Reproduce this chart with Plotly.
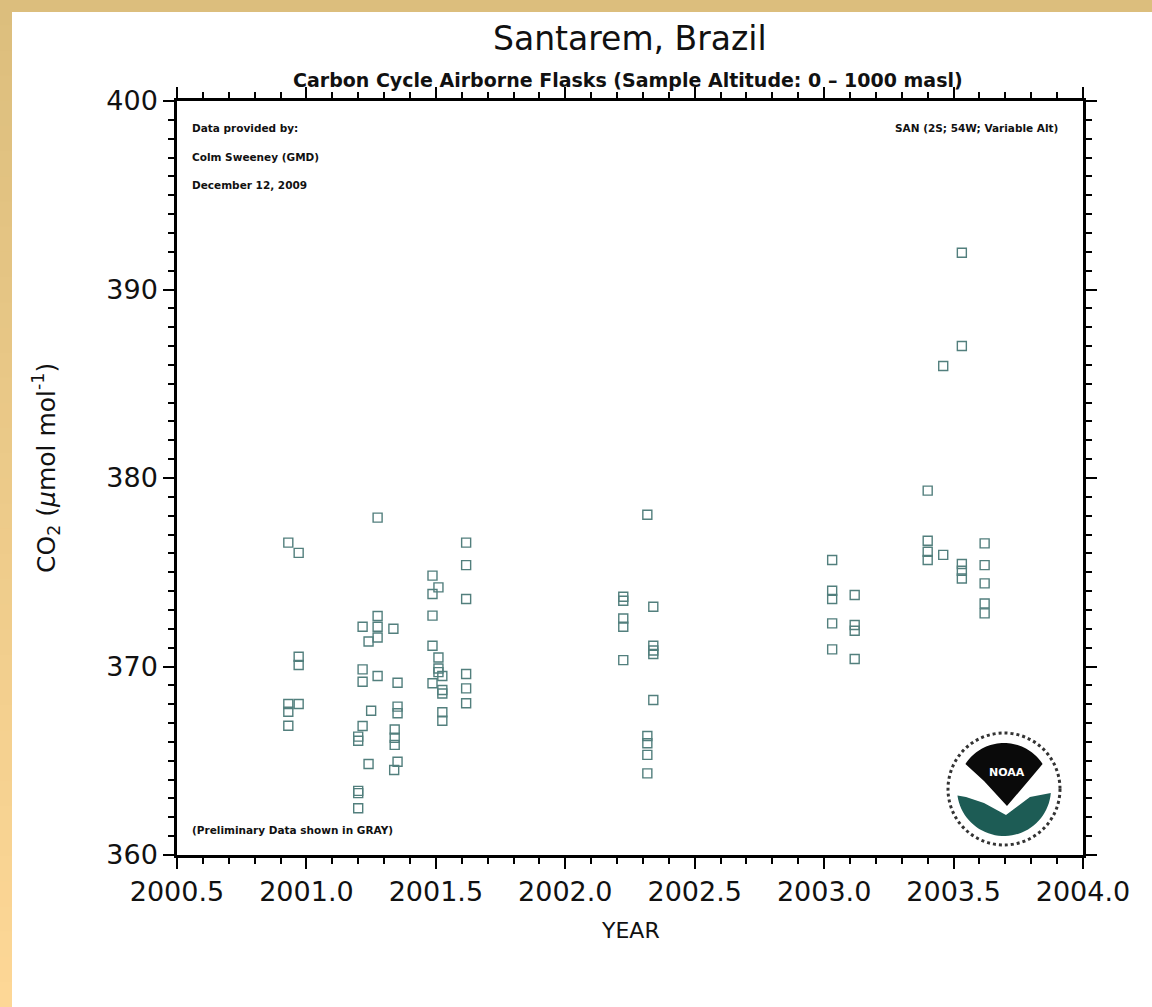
import math
import plotly.graph_objects as go

# ---------------- data (decimal year, CO2 in umol/mol) ----------------
flask_year = [
    2000.930, 2000.930, 2000.930, 2000.930,
    2000.970, 2000.970, 2000.970, 2000.970,
    2001.200, 2001.200, 2001.200, 2001.200, 2001.200,
    2001.217, 2001.217, 2001.217, 2001.217,
    2001.240, 2001.240, 2001.250,
    2001.275, 2001.275, 2001.275, 2001.275, 2001.275,
    2001.336, 2001.352, 2001.352, 2001.352, 2001.341, 2001.341, 2001.341, 2001.352, 2001.339,
    2001.487, 2001.487, 2001.487, 2001.487, 2001.487,
    2001.510, 2001.510, 2001.510, 2001.510,
    2001.525, 2001.525, 2001.525, 2001.525, 2001.525,
    2001.617, 2001.617, 2001.617, 2001.617, 2001.617, 2001.617,
    2002.224, 2002.224, 2002.224, 2002.224, 2002.224,
    2002.317, 2002.317, 2002.317, 2002.317, 2002.317,
    2002.340, 2002.340, 2002.340, 2002.340, 2002.340,
    2003.031, 2003.031, 2003.031, 2003.031, 2003.031,
    2003.118, 2003.118, 2003.118, 2003.118,
    2003.400, 2003.400, 2003.400, 2003.400,
    2003.460, 2003.460,
    2003.532, 2003.532, 2003.532, 2003.532, 2003.532,
    2003.620, 2003.620, 2003.620, 2003.620, 2003.620,
]
flask_co2 = [
    376.57, 368.01, 367.60, 366.86,
    376.03, 370.52, 370.08, 368.01,
    366.28, 366.06, 363.40, 363.28, 362.48,
    372.11, 369.85, 369.19, 366.84,
    371.33, 364.83, 367.65,
    377.90, 372.68, 372.11, 371.54, 369.50,
    372.00, 369.14, 367.87, 367.52, 366.66, 366.22, 365.84, 364.95, 364.51,
    374.82, 373.85, 372.70, 371.10, 369.11,
    374.20, 370.48, 369.89, 369.70,
    369.50, 368.75, 368.57, 367.57, 367.12,
    376.57, 375.38, 373.58, 369.60, 368.84, 368.05,
    373.70, 373.49, 372.55, 372.11, 370.34,
    378.05, 366.31, 365.93, 365.31, 364.33,
    373.17, 371.10, 370.85, 370.66, 368.22,
    375.65, 374.02, 373.58, 372.29, 370.91,
    373.79, 372.20, 371.90, 370.40,
    379.33, 376.67, 376.09, 375.65,
    385.94, 375.92,
    391.95, 387.00, 375.44, 375.08, 374.67,
    376.53, 375.38, 374.41, 373.34, 372.82,
]
x_tickvals = [2000.5, 2001.0, 2001.5, 2002.0, 2002.5, 2003.0, 2003.5, 2004.0]
x_ticktext = ["2000.5", "2001.0", "2001.5", "2002.0", "2002.5", "2003.0", "2003.5", "2004.0"]
y_tickvals = [360, 370, 380, 390, 400]
y_ticktext = ["360", "370", "380", "390", "400"]

# ---------------- layout geometry ----------------
W, H = 1152, 1007
PL, PR, PT, PB = 177, 1083, 101, 855
PW, PH = PR - PL, PB - PT
FONT = "DejaVu Sans"
MARK = "#527f7d"


def pxx(x):
    return (x - PL) / PW


def pxy(y):
    return (PB - y) / PH


fig = go.Figure()
fig.add_trace(go.Scatter(
    x=flask_year, y=flask_co2, mode="markers",
    marker=dict(symbol="square-open", size=9, color=MARK, line=dict(width=1.4, color=MARK)),
    showlegend=False, hoverinfo="x+y",
))

shapes = []
# decorative tan border (top band + left gradient band)
shapes.append(dict(type="rect", xref="paper", yref="paper", x0=pxx(0), x1=pxx(W), y0=pxy(12), y1=pxy(0),
                   fillcolor="#dcbe7d", line=dict(width=0), layer="below"))
n = 40
c0, c1 = (220, 190, 125), (253, 215, 150)
for i in range(n):
    t = i / (n - 1)
    col = "rgb(%d,%d,%d)" % tuple(round(a + (b - a) * t) for a, b in zip(c0, c1))
    shapes.append(dict(type="rect", xref="paper", yref="paper", x0=pxx(0), x1=pxx(12),
                       y0=pxy(H * (i + 1) / n + 1), y1=pxy(H * i / n),
                       fillcolor=col, line=dict(width=0), layer="below"))

# NOAA-like emblem
cx, cy, R = 1004, 789, 46


def pt(dx, dy):
    return "%.5f,%.5f" % (pxx(cx + dx), pxy(cy - dy))


def arc(a0, a1, r, steps=40):
    out = []
    for k in range(steps + 1):
        a = math.radians(a0 + (a1 - a0) * k / steps)
        out.append(pt(r * math.cos(a), r * math.sin(a)))
    return out


shapes.append(dict(type="circle", xref="paper", yref="paper",
                   x0=pxx(cx - 56), x1=pxx(cx + 56), y0=pxy(cy + 56), y1=pxy(cy - 56),
                   line=dict(color="#333333", width=3, dash="dot"), fillcolor="white"))
black = arc(147, 33, R) + [pt(26, 10), pt(3, -17), pt(-20, 8)]
shapes.append(dict(type="path", xref="paper", yref="paper",
                   path="M" + " L".join(black) + " Z", fillcolor="#0a0a0a", line=dict(width=0)))
teal = arc(188, 355, R + 1) + [pt(26, -8), pt(2, -26), pt(-20, -14), pt(-38, -8)]
shapes.append(dict(type="path", xref="paper", yref="paper",
                   path="M" + " L".join(teal) + " Z", fillcolor="#1d5c55", line=dict(width=0)))

SMALL = dict(size=10.5, family=FONT, color="#111", weight="bold")
annotations = [
    dict(text="Santarem, Brazil", x=pxx(630), y=pxy(38), font=dict(size=33, family=FONT, color="#111")),
    dict(text="Carbon Cycle Airborne Flasks (Sample Altitude: 0 \u2013 1000 masl)", x=pxx(628), y=pxy(80),
         font=dict(size=19, family=FONT, color="#111", weight="bold")),
    dict(text="Data provided by:", x=pxx(190), y=pxy(128), xanchor="left", font=SMALL),
    dict(text="Colm Sweeney (GMD)", x=pxx(190), y=pxy(157), xanchor="left", font=SMALL),
    dict(text="December 12, 2009", x=pxx(190), y=pxy(185), xanchor="left", font=SMALL),
    dict(text="SAN (2S; 54W; Variable Alt)", x=pxx(1060), y=pxy(128), xanchor="right", font=SMALL),
    dict(text="(Preliminary Data shown in GRAY)", x=pxx(190), y=pxy(830), xanchor="left", font=SMALL),
    dict(text="YEAR", x=pxx(630), y=pxy(930), font=dict(size=22, family=FONT, color="#111")),
    dict(text="CO<sub>2</sub> (<i>\u03bc</i>mol mol<sup>-1</sup>)", x=pxx(46), y=pxy(468), textangle=-90,
         font=dict(size=25, family=FONT, color="#111")),
    dict(text="<b>NOAA</b>", x=pxx(cx + 3), y=pxy(772), font=dict(size=11, family=FONT, color="white")),
]
for a in annotations:
    a.update(xref="paper", yref="paper", showarrow=False)
    a.setdefault("xanchor", "center")
    a.setdefault("yanchor", "middle")

axis_common = dict(showline=True, linecolor="black", linewidth=2.5, mirror="allticks",
                   ticks="outside", ticklen=11, tickwidth=2, tickcolor="black",
                   showgrid=False, zeroline=False,
                   tickfont=dict(size=27, family=FONT, color="#111"))

fig.update_layout(
    width=W, height=H, autosize=False,
    margin=dict(l=PL, r=W - PR, t=PT, b=H - PB, pad=0),
    paper_bgcolor="white", plot_bgcolor="white",
    shapes=shapes, annotations=annotations,
    xaxis=dict(range=[2000.5, 2004.0], tickvals=x_tickvals, ticktext=x_ticktext,
               minor=dict(dtick=0.1, ticks="outside", ticklen=6, tickwidth=1.5, tickcolor="black"),
               **axis_common),
    yaxis=dict(range=[360, 400], tickvals=y_tickvals, ticktext=y_ticktext,
               minor=dict(dtick=1, ticks="outside", ticklen=6, tickwidth=1.5, tickcolor="black"),
               **axis_common),
)

fig.write_html("out.html", config={"displayModeBar": False},
               post_script="document.body.style.margin='0';document.body.style.overflow='hidden';")
